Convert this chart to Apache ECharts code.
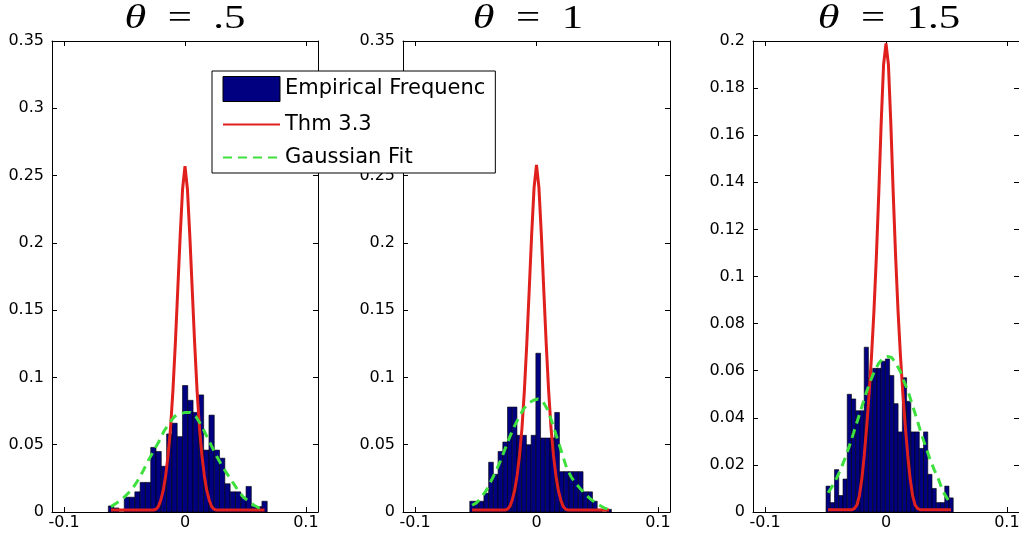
<!DOCTYPE html>
<html><head><meta charset="utf-8">
<script src="https://cdn.jsdelivr.net/npm/echarts@6/dist/echarts.min.js"></script>
<style>html,body{margin:0;padding:0;background:#fff}#c{width:1019px;height:546px}</style>
</head><body><div id="c"></div>
<script>
// ---------- data ----------
const titleValues = ['.5', '1', '1.5'];
const seriesNames = ['Empirical Frequency', 'Thm 3.3', 'Gaussian Fit'];
const xTicks = [-0.1, 0, 0.1];
const yTicksA = [0, 0.05, 0.1, 0.15, 0.2, 0.25, 0.3, 0.35];
const yTicksB = [0, 0.02, 0.04, 0.06, 0.08, 0.1, 0.12, 0.14, 0.16, 0.18, 0.2];

// histogram range [lo, hi] and bar heights (30 equal bins)
const range1 = [-0.0634, 0.068];
const hist1 = [0.0045, 0.003, 0, 0.011, 0.011, 0.015, 0.022, 0.022, 0.048, 0.045,
               0.034, 0.058, 0.066, 0.056, 0.094, 0.083, 0.074, 0.087, 0.046, 0.072,
               0.046, 0.040, 0.021, 0.015, 0.015, 0.011, 0.019, 0.004, 0.004, 0.008];
const gauss1 = [0.004, 0.0065, 0.009, 0.013, 0.017, 0.023, 0.030, 0.038, 0.045, 0.052,
                0.060, 0.066, 0.071, 0.073, 0.074, 0.074, 0.071, 0.065, 0.057, 0.049,
                0.041, 0.034, 0.028, 0.022, 0.016, 0.011, 0.008, 0.005, 0.003, 0.002];
const redX1 = [-0.0612, -0.030, -0.026, -0.024, -0.022, -0.020, -0.018, -0.016, -0.014, -0.012, -0.010,
               -0.008, -0.006, -0.004, -0.002, 0, 0.002, 0.004, 0.006, 0.008, 0.010, 0.012,
               0.014, 0.016, 0.018, 0.020, 0.022, 0.024, 0.026, 0.030, 0.0658];
const red1 = [0.0015, 0.0015, 0.0015, 0.002, 0.004, 0.009, 0.016, 0.027, 0.042, 0.062, 0.090,
              0.125, 0.165, 0.205, 0.240, 0.257, 0.240, 0.205, 0.165, 0.125, 0.090, 0.062,
              0.042, 0.027, 0.016, 0.009, 0.004, 0.002, 0.0015, 0.0015, 0.0015];

const range2 = [-0.055, 0.0617];
const hist2 = [0.008, 0.008, 0.008, 0.014, 0.037, 0.028, 0.045, 0.052, 0.078, 0.078,
               0.057, 0.057, 0.050, 0.057, 0.118, 0.055, 0.055, 0.055, 0.074, 0.030,
               0.030, 0.030, 0.030, 0.030, 0.015, 0.015, 0.008, 0.002, 0, 0.002];
const gauss2 = [0.005, 0.007, 0.011, 0.016, 0.023, 0.030, 0.038, 0.047, 0.056, 0.064,
                0.071, 0.077, 0.081, 0.083, 0.084, 0.082, 0.076, 0.066, 0.055, 0.044,
                0.033, 0.026, 0.021, 0.017, 0.013, 0.010, 0.007, 0.005, 0.003, 0.002];
const redX2 = [-0.0531, -0.030, -0.026, -0.024, -0.022, -0.020, -0.018, -0.016, -0.014, -0.012, -0.010,
               -0.008, -0.006, -0.004, -0.002, 0, 0.002, 0.004, 0.006, 0.008, 0.010, 0.012,
               0.014, 0.016, 0.018, 0.020, 0.022, 0.024, 0.026, 0.030, 0.0598];
const red2 = [0.0015, 0.0015, 0.0015, 0.002, 0.004, 0.009, 0.016, 0.027, 0.042, 0.062, 0.090,
              0.125, 0.165, 0.206, 0.241, 0.258, 0.241, 0.206, 0.165, 0.125, 0.090, 0.062,
              0.042, 0.027, 0.016, 0.009, 0.004, 0.002, 0.0015, 0.0015, 0.0015];

const range3 = [-0.0496, 0.0556];
const hist3 = [0.011, 0.004, 0.018, 0.007, 0.014, 0.050, 0.048, 0.043, 0.043, 0.070,
               0.057, 0.061, 0.061, 0.064, 0.065, 0.058, 0.046, 0.034, 0.057, 0.047,
               0.034, 0.034, 0.027, 0.034, 0.016, 0.010, 0.004, 0.004, 0.011, 0.006];
const gauss3 = [0.0082, 0.011, 0.0144, 0.0183, 0.0229, 0.028, 0.0336, 0.0393, 0.045, 0.0507,
                0.0558, 0.060, 0.0634, 0.0653, 0.066, 0.0656, 0.063, 0.0598, 0.055, 0.0504,
                0.0447, 0.039, 0.033, 0.0278, 0.0225, 0.018, 0.014, 0.009, 0.006, 0.003];
const redX3 = [-0.0479, -0.030, -0.028, -0.026, -0.024, -0.022, -0.020, -0.018, -0.016, -0.014, -0.012, -0.010,
               -0.008, -0.006, -0.004, -0.002, 0, 0.002, 0.004, 0.006, 0.008, 0.010, 0.012,
               0.014, 0.016, 0.018, 0.020, 0.022, 0.024, 0.026, 0.028, 0.030, 0.0538];
const red3 = [0.001, 0.001, 0.001, 0.0015, 0.003, 0.007, 0.014, 0.024, 0.036, 0.050, 0.066, 0.085,
              0.108, 0.135, 0.165, 0.190, 0.199, 0.190, 0.165, 0.135, 0.108, 0.085, 0.066,
              0.050, 0.036, 0.024, 0.014, 0.007, 0.003, 0.0015, 0.001, 0.001, 0.001];

// ---------- layout / style ----------
const panels = [
  {left: 52,  width: 266, ymax: 0.35, yInt: 0.05, range: range1, hist: hist1, gauss: gauss1, redX: redX1, red: red1, tx: 185},
  {left: 403, width: 267, ymax: 0.35, yInt: 0.05, range: range2, hist: hist2, gauss: gauss2, redX: redX2, red: red2, tx: 528},
  {left: 753, width: 266, ymax: 0.2,  yInt: 0.02, range: range3, hist: hist3, gauss: gauss3, redX: redX3, red: red3, tx: 889}
];
const TOP = 41, HEIGHT = 471;
const BAR = '#000080', RED = '#e0201c', GREEN = '#3ee03e';
const labelFont = {fontFamily: 'DejaVu Sans', fontSize: 16, color: '#000'};
const fmt = v => String(+(+v).toFixed(3));

const grid = [], xAxis = [], yAxis = [], series = [], graphic = [];

function binCenters(range, n) {
  const w = (range[1] - range[0]) / n;
  const out = [];
  for (let i = 0; i < n; i++) out.push(range[0] + w * (i + 0.5));
  return out;
}

panels.forEach((p, i) => {
  grid.push({left: p.left, top: TOP, width: p.width, height: HEIGHT, containLabel: false, outerBoundsMode: 'none'});
  const tick = {show: true, inside: true, length: 5, lineStyle: {color: '#000', width: 1}};
  const line = {show: true, onZero: false, lineStyle: {color: '#000', width: 1}};
  const yTicks = i === 2 ? yTicksB : yTicksA;
  xAxis.push({type: 'value', gridIndex: i, position: 'bottom', min: -0.11, max: 0.11,
    axisLine: line, splitLine: {show: false},
    axisTick: Object.assign({customValues: xTicks}, tick),
    axisLabel: Object.assign({customValues: xTicks, margin: 3, formatter: fmt}, labelFont)});
  xAxis.push({type: 'value', gridIndex: i, position: 'top', min: -0.11, max: 0.11,
    axisLine: line, splitLine: {show: false},
    axisTick: Object.assign({customValues: xTicks}, tick), axisLabel: {show: false}});
  yAxis.push({type: 'value', gridIndex: i, position: 'left', min: 0, max: p.ymax, interval: p.yInt,
    axisLine: line, splitLine: {show: false},
    axisTick: Object.assign({customValues: yTicks}, tick),
    axisLabel: Object.assign({customValues: yTicks, margin: 8, formatter: fmt}, labelFont)});
  yAxis.push({type: 'value', gridIndex: i, position: 'right', min: 0, max: p.ymax, interval: p.yInt,
    axisLine: line, splitLine: {show: false},
    axisTick: Object.assign({customValues: yTicks}, tick), axisLabel: {show: false}});

  const n = p.hist.length;
  const w = (p.range[1] - p.range[0]) / n;
  const barData = p.hist.map((h, k) => [p.range[0] + w * k, p.range[0] + w * (k + 1), h]);
  const centers = binCenters(p.range, n);

  series.push({
    name: seriesNames[0], type: 'custom', xAxisIndex: 2 * i, yAxisIndex: 2 * i,
    itemStyle: {color: BAR}, z: 2, data: barData, encode: {x: [0, 1], y: 2},
    renderItem: (params, api) => {
      const a = api.coord([api.value(0), api.value(2)]);
      const b = api.coord([api.value(1), 0]);
      return {type: 'rect', shape: {x: a[0], y: a[1], width: b[0] - a[0], height: b[1] - a[1]},
        style: {fill: BAR, stroke: '#000', lineWidth: 0.6}};
    }
  });
  series.push({
    name: seriesNames[1], type: 'line', xAxisIndex: 2 * i, yAxisIndex: 2 * i, z: 3,
    symbol: 'none', showSymbol: false, smooth: false,
    lineStyle: {color: RED, width: 3}, itemStyle: {color: RED},
    data: p.redX.map((x, k) => [x, p.red[k]])
  });
  series.push({
    name: seriesNames[2], type: 'line', xAxisIndex: 2 * i, yAxisIndex: 2 * i, z: 4,
    symbol: 'none', showSymbol: false, smooth: false,
    lineStyle: {color: GREEN, width: 3, type: [9, 6]}, itemStyle: {color: GREEN},
    data: centers.map((x, k) => [x, p.gauss[k]])
  });

  graphic.push({
    type: 'text', x: p.tx, y: 19, scaleX: 1.3, z: 10,
    style: {
      text: '{t|θ}  =  ' + titleValues[i],
      font: '33px "Liberation Serif"', fill: '#000',
      align: 'center', verticalAlign: 'middle',
      rich: {t: {fontStyle: 'italic', fontFamily: 'Liberation Serif', fontSize: 34}}
    }
  });
});

const chart = echarts.init(document.getElementById('c'), null, {renderer: 'canvas'});
chart.setOption({
  animation: false,
  backgroundColor: '#fff',
  grid, xAxis, yAxis, series, graphic,
  legend: {
    left: 212, top: 71, orient: 'vertical', selectedMode: false, z: 20,
    padding: [5, 10, 5, 10], itemGap: 12, itemWidth: 57, itemHeight: 25, itemTextGap: 4,
    backgroundColor: '#fff', borderColor: '#000', borderWidth: 1, borderRadius: 0,
    textStyle: {fontFamily: 'DejaVu Sans', fontSize: 21, color: '#000', width: 204, overflow: 'truncate', ellipsis: ''},
    data: [
      {name: seriesNames[0], icon: 'rect', itemStyle: {color: BAR, borderColor: '#000', borderWidth: 1}},
      {name: seriesNames[1], itemStyle: {opacity: 0}},
      {name: seriesNames[2], itemStyle: {opacity: 0}}
    ]
  }
});
</script>
</body></html>
